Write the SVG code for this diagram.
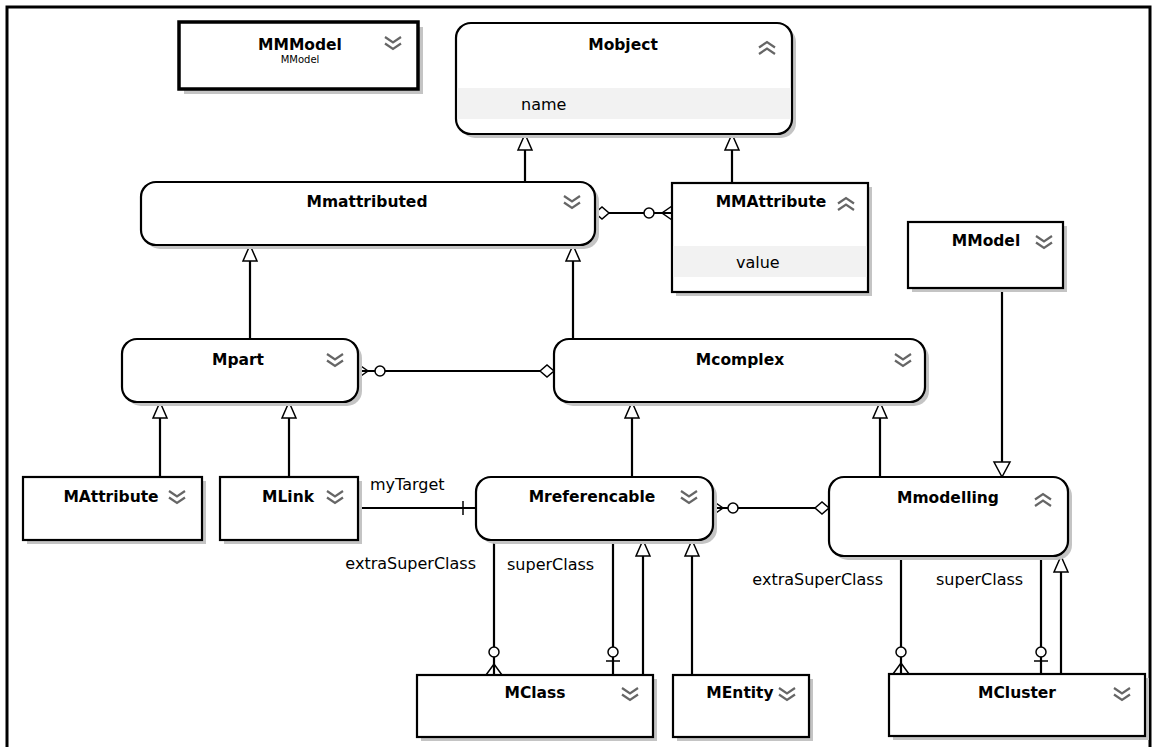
<svg xmlns="http://www.w3.org/2000/svg" width="1153" height="747" viewBox="0 0 1153 747">
<style>
.box{fill:#fff;stroke:#000;stroke-width:2.2}
.thick{fill:#fff;stroke:#000;stroke-width:3.5}
.sh{fill:#c4c4c4}
.band{fill:#f2f2f2}
.t{font-family:"DejaVu Sans",Verdana,sans-serif;font-weight:bold;font-size:15.5px;text-anchor:middle;fill:#000}
.a{font-family:"DejaVu Sans",Verdana,sans-serif;font-size:16px;fill:#000}
.sub{font-family:"DejaVu Sans",Verdana,sans-serif;font-size:10px;text-anchor:middle;fill:#000}
.ch{fill:none;stroke:#666;stroke-width:2.2}
.ln{fill:none;stroke:#000;stroke-width:2.2}
.hol{fill:#fff;stroke:#000;stroke-width:1.5}
.frame{fill:none;stroke:#000;stroke-width:3}
</style>
<defs>
<g id="down"><path class="ch" d="M-8,-7 L0,-1.5 L8,-7 M-8,-0.5 L0,5 L8,-0.5"/></g>
<g id="up"><path class="ch" d="M-8,7 L0,1.5 L8,7 M-8,0.5 L0,-5 L8,0.5"/></g>
<path id="triU" class="hol" d="M0,0 L-7,16 L7,16 Z"/>
<path id="triD" class="hol" d="M0,0 L-8,-15 L8,-15 Z"/>
</defs>
<rect width="1153" height="747" fill="#fff"/>
<path class="frame" d="M7,747 V7 H1150 V747"/>

<g id="connectors">
<line class="ln" x1="525" y1="182" x2="525" y2="150"/><use href="#triU" x="525" y="134"/>
<line class="ln" x1="732" y1="183" x2="732" y2="150"/><use href="#triU" x="732" y="134"/>
<line class="ln" x1="250" y1="339" x2="250" y2="261"/><use href="#triU" x="250" y="245"/>
<line class="ln" x1="573" y1="339" x2="573" y2="261"/><use href="#triU" x="573" y="245"/>
<line class="ln" x1="160" y1="477" x2="160" y2="418"/><use href="#triU" x="160" y="402"/>
<line class="ln" x1="289" y1="477" x2="289" y2="418"/><use href="#triU" x="289" y="402"/>
<line class="ln" x1="632" y1="477" x2="632" y2="418"/><use href="#triU" x="632" y="402"/>
<line class="ln" x1="880" y1="477" x2="880" y2="418"/><use href="#triU" x="880" y="402"/>
<line class="ln" x1="643" y1="675" x2="643" y2="556"/><use href="#triU" x="643" y="540"/>
<line class="ln" x1="692" y1="675" x2="692" y2="556"/><use href="#triU" x="692" y="540"/>
<line class="ln" x1="1061" y1="674" x2="1061" y2="572"/><use href="#triU" x="1061" y="556"/>
<line class="ln" x1="1002" y1="288" x2="1002" y2="462"/><use href="#triD" x="1002" y="477"/>

<line class="ln" x1="609" y1="213" x2="672" y2="213"/>
<path class="hol" d="M595,213 L602,207 L609,213 L602,219 Z"/>
<circle class="hol" cx="649" cy="213" r="5"/>
<path class="ln" style="stroke-width:1.5" d="M672,206 L662,213 L672,220"/>

<line class="ln" x1="358" y1="371" x2="540" y2="371"/>
<path class="ln" style="stroke-width:1.5" d="M358,364 L368,371 L358,378"/>
<circle class="hol" cx="380" cy="371" r="5"/>
<path class="hol" d="M540,371 L547,365 L554,371 L547,377 Z"/>

<line class="ln" x1="358" y1="508" x2="476" y2="508"/>
<line class="ln" style="stroke-width:1.5" x1="463" y1="501" x2="463" y2="515"/>
<text class="a" x="370" y="490">myTarget</text>

<line class="ln" x1="713" y1="508" x2="815" y2="508"/>
<path class="ln" style="stroke-width:1.5" d="M713,501 L723,508 L713,515"/>
<circle class="hol" cx="733" cy="508" r="5"/>
<path class="hol" d="M815,508 L822,502 L829,508 L822,514 Z"/>

<line class="ln" x1="494" y1="540" x2="494" y2="675"/>
<circle class="hol" cx="494" cy="652" r="5"/>
<path class="ln" style="stroke-width:1.5" d="M486,675 L494,664 L502,675"/>
<line class="ln" x1="613" y1="540" x2="613" y2="675"/>
<circle class="hol" cx="613" cy="652" r="5"/>
<line class="ln" style="stroke-width:1.5" x1="606" y1="661" x2="620" y2="661"/>
<text class="a" x="476" y="569" text-anchor="end">extraSuperClass</text>
<text class="a" x="507" y="570">superClass</text>

<line class="ln" x1="901" y1="556" x2="901" y2="674"/>
<circle class="hol" cx="901" cy="652" r="5"/>
<path class="ln" style="stroke-width:1.5" d="M893,674 L901,663 L909,674"/>
<line class="ln" x1="1041" y1="556" x2="1041" y2="674"/>
<circle class="hol" cx="1041" cy="652" r="5"/>
<line class="ln" style="stroke-width:1.5" x1="1034" y1="661" x2="1048" y2="661"/>
<text class="a" x="883" y="585" text-anchor="end">extraSuperClass</text>
<text class="a" x="936" y="585">superClass</text>
</g>

<g id="MMModel">
<rect class="sh" x="184" y="27" width="239" height="67"/>
<rect class="thick" x="179" y="22" width="239" height="67"/>
<text class="t" x="300" y="50">MMModel</text>
<text class="sub" x="300" y="63">MModel</text>
<use href="#down" x="393" y="44"/>
</g>

<g id="Mobject">
<rect class="sh" x="460" y="27" width="336" height="111" rx="15"/>
<rect class="box" x="456" y="23" width="336" height="111" rx="15"/>
<rect class="band" x="457.5" y="88" width="333" height="31"/>
<text class="t" x="623" y="50">Mobject</text>
<use href="#up" x="767" y="47"/>
<text class="a" x="521" y="110">name</text>
</g>

<g id="Mmattributed">
<rect class="sh" x="145" y="186" width="454" height="63" rx="15"/>
<rect class="box" x="141" y="182" width="454" height="63" rx="15"/>
<text class="t" x="367" y="207">Mmattributed</text>
<use href="#down" x="572" y="203"/>
</g>

<g id="MMAttribute">
<rect class="sh" x="676" y="187" width="196" height="109"/>
<rect class="box" x="672" y="183" width="196" height="109"/>
<rect class="band" x="673.5" y="246" width="193" height="31"/>
<text class="t" x="771" y="207">MMAttribute</text>
<use href="#up" x="846" y="203"/>
<text class="a" x="736" y="268">value</text>
</g>

<g id="MModel">
<rect class="sh" x="912" y="226" width="155" height="66"/>
<rect class="box" x="908" y="222" width="155" height="66"/>
<text class="t" x="986" y="246">MModel</text>
<use href="#down" x="1044" y="243"/>
</g>

<g id="Mpart">
<rect class="sh" x="126" y="343" width="236" height="63" rx="15"/>
<rect class="box" x="122" y="339" width="236" height="63" rx="15"/>
<text class="t" x="238" y="365">Mpart</text>
<use href="#down" x="335" y="361"/>
</g>

<g id="Mcomplex">
<rect class="sh" x="558" y="343" width="371" height="63" rx="15"/>
<rect class="box" x="554" y="339" width="371" height="63" rx="15"/>
<text class="t" x="740" y="365">Mcomplex</text>
<use href="#down" x="903" y="361"/>
</g>

<g id="MAttribute">
<rect class="sh" x="27" y="481" width="179" height="63"/>
<rect class="box" x="23" y="477" width="179" height="63"/>
<text class="t" x="111" y="502">MAttribute</text>
<use href="#down" x="177" y="498"/>
</g>

<g id="MLink">
<rect class="sh" x="224" y="481" width="138" height="63"/>
<rect class="box" x="220" y="477" width="138" height="63"/>
<text class="t" x="288" y="502">MLink</text>
<use href="#down" x="335" y="498"/>
</g>

<g id="Mreferencable">
<rect class="sh" x="480" y="481" width="237" height="63" rx="15"/>
<rect class="box" x="476" y="477" width="237" height="63" rx="15"/>
<text class="t" x="592" y="502">Mreferencable</text>
<use href="#down" x="689" y="498"/>
</g>

<g id="Mmodelling">
<rect class="sh" x="833" y="481" width="239" height="79" rx="15"/>
<rect class="box" x="829" y="477" width="239" height="79" rx="15"/>
<text class="t" x="948" y="503">Mmodelling</text>
<use href="#up" x="1043" y="499"/>
</g>

<g id="MClass">
<rect class="sh" x="421" y="679" width="236" height="62"/>
<rect class="box" x="417" y="675" width="236" height="62"/>
<text class="t" x="535" y="698">MClass</text>
<use href="#down" x="630" y="695"/>
</g>

<g id="MEntity">
<rect class="sh" x="677" y="679" width="136" height="62"/>
<rect class="box" x="673" y="675" width="136" height="62"/>
<text class="t" x="740" y="698">MEntity</text>
<use href="#down" x="787" y="695"/>
</g>

<g id="MCluster">
<rect class="sh" x="893" y="678" width="256" height="62"/>
<rect class="box" x="889" y="674" width="256" height="62"/>
<text class="t" x="1017" y="698">MCluster</text>
<use href="#down" x="1122" y="695"/>
</g>
</svg>
